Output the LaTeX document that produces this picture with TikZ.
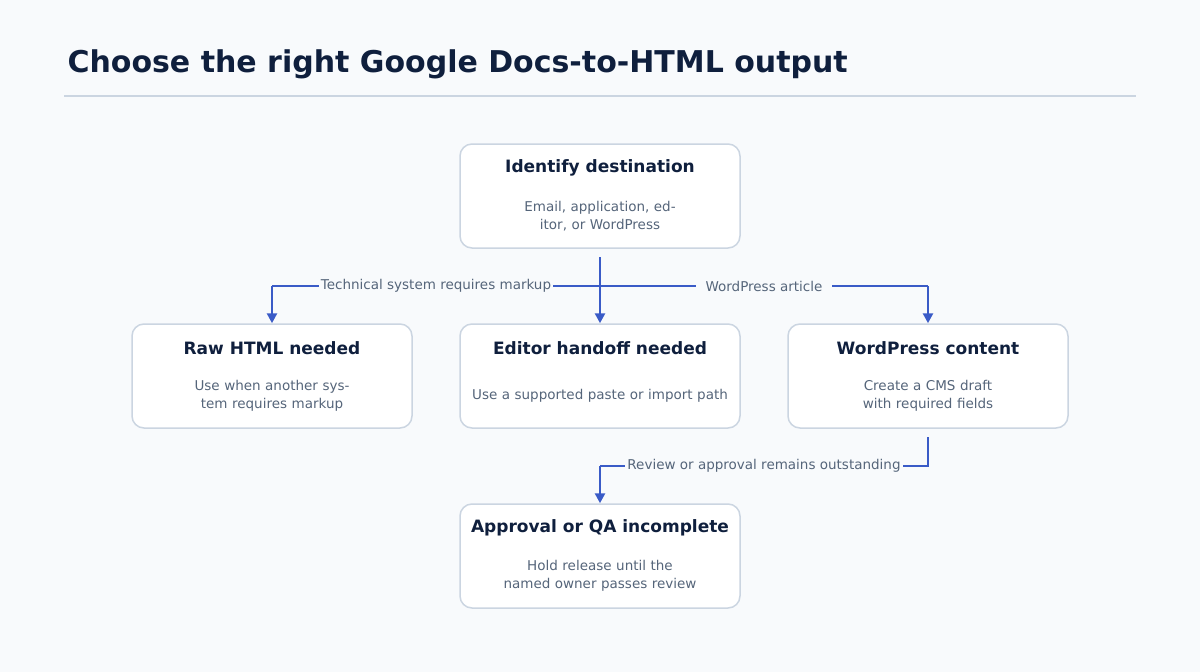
\documentclass[tikz,border=0pt]{standalone}
\usepackage{fontspec}
\setmainfont{DejaVu Sans}
\usetikzlibrary{arrows.meta}
\definecolor{bg}{HTML}{F8FAFC}
\definecolor{bd}{HTML}{CBD5E1}
\definecolor{ttl}{HTML}{0F1F3D}
\definecolor{sub}{HTML}{55657A}
\definecolor{arr}{HTML}{3A5BC7}
\begin{document}
\begin{tikzpicture}[x=1pt,y=-1pt,
  box/.style={draw=bd,line width=1.5pt,fill=white,rounded corners=12pt,minimum width=280pt,minimum height=104pt},
  btitle/.style={font=\fontsize{17}{20}\selectfont\bfseries,text=ttl},
  bsub/.style={font=\fontsize{13.5}{18}\selectfont,text=sub,align=center,text width=260pt},
  lab/.style={font=\fontsize{13.5}{16}\selectfont,text=sub,fill=bg,inner sep=2pt},
  con/.style={draw=arr,line width=2.5pt},
  ar/.style={con,-{Triangle[length=10pt,width=10pt]}}]
\useasboundingbox[fill=bg] (0,0) rectangle (1200,672);
\node[anchor=base west,font=\fontsize{30}{36}\selectfont\bfseries,text=ttl] (title) at (64,72) {Choose the right Google Docs-to-HTML output};
\draw[bd,line width=1.5pt] (64,96) -- (1136,96);
\newcommand\mybox[5]{%
 \node[box] (#1) at (#2,#3) {};
 \node[btitle] (#1t) at (#2,#3-28) {#4};
 \node[bsub] (#1s) at (#2,#3+20) {#5};}
\mybox{dest}{600}{196}{Identify destination}{Email, application, editor, or WordPress}
\mybox{raw}{272}{376}{Raw HTML needed}{Use when another system requires markup}
\mybox{edit}{600}{376}{Editor handoff needed}{Use a supported paste or import path}
\mybox{wp}{928}{376}{WordPress content}{Create a CMS draft with required fields}
\mybox{qa}{600}{556}{Approval or QA incomplete}{Hold release until the named owner passes review}
\coordinate (j) at (600,286);
\coordinate (l) at (272,286);
\coordinate (r) at (928,286);
\draw[ar] (600,257) -- (edit.north);
\draw[con] (j) -- (l);
\draw[ar] (l) -- (raw.north);
\draw[con] (j) -- (r);
\draw[ar] (r) -- (wp.north);
\node[lab] (l1) at (436,286) {Technical system requires markup};
\node[lab,inner xsep=10pt] (l2) at (764,286) {WordPress article};
\coordinate (b1) at (928,466);
\coordinate (b2) at (600,466);
\draw[con] (928,437) -- (b1) -- (b2);
\draw[ar] (b2) -- (qa.north);
\node[lab] (l3) at (764,466) {Review or approval remains outstanding};
\end{tikzpicture}
\end{document}
